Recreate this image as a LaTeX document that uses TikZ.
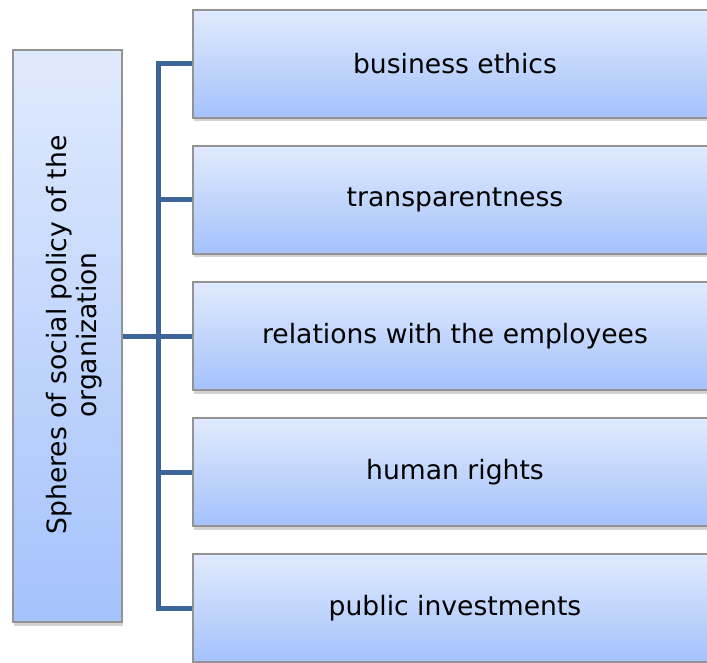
\documentclass[tikz,border=0pt]{standalone}
\usepackage{fontspec}
\setmainfont{DejaVu Sans}
\usetikzlibrary{shadows}

\definecolor{boxtop}{HTML}{E0EAFD}
\definecolor{boxbot}{HTML}{A4C2FC}
\definecolor{linkblue}{HTML}{3D6597}

\tikzset{
	sphere/.style={draw=gray!85, line width=1.2pt, top color=boxtop, bottom color=boxbot,
		drop shadow={opacity=0.35, shadow xshift=0.5pt, shadow yshift=-3.5pt},
		minimum width=524pt, minimum height=108pt, inner sep=0pt,
		font=\fontsize{26.6}{31}\selectfont},
	link/.style={linkblue, line width=5pt}
}

\begin{document}
\begin{tikzpicture}[x=1pt,y=-1pt]
	\useasboundingbox (0,0) rectangle (707,663);
	\clip (0,0) rectangle (707,663);

	% left box with the title turned upright
	\node[sphere, minimum width=109pt, minimum height=572pt] (spheres) at (67.5,336) {};
	\node[rotate=90, align=center, font=\fontsize{26.6}{30}\selectfont] (spherestext) at (74,335)
		{Spheres of social policy of the\\organization};

	% the five spheres
	\node[sphere] (ethics) at (455,64) {business ethics};
	\node[sphere] (transp) at (455,200) {transparentness};
	\node[sphere] (employees) at (455,336) {relations with the employees};
	\node[sphere] (rights) at (455,472) {human rights};
	\node[sphere] (invest) at (455,608) {public investments};

	% connectors
	\coordinate (trunk) at (158,336);
	\draw[link] (ethics.west) -| (trunk) |- (invest.west);
	\draw[link] (spheres.east) -- (employees.west);
	\draw[link] (transp.west) -- (transp.west -| trunk);
	\draw[link] (rights.west) -- (rights.west -| trunk);
\end{tikzpicture}
\end{document}
